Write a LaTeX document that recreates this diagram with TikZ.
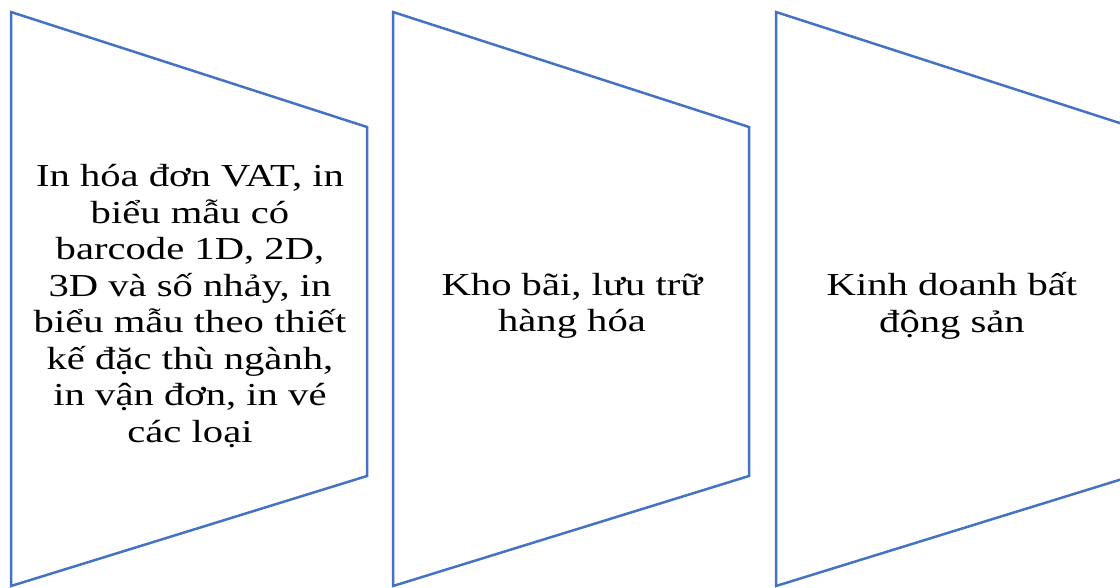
\documentclass[tikz,border=0pt]{standalone}
\usepackage{fontspec}
\setmainfont{Liberation Serif}[FakeStretch=1.27]
\definecolor{blue1}{RGB}{68, 114, 196}
\usetikzlibrary{positioning}

\begin{document}
\begin{tikzpicture}[x=1pt, y=-1pt,
  panel/.style={draw=blue1, line width=2.5pt, fill=white, line join=miter},
  boxtext/.style={align=center, inner sep=0pt, font=\fontsize{32}{36.5}\selectfont}]
  \useasboundingbox (0,0) rectangle (1120,587);
  \clip (0,0) rectangle (1120,587);
  % panels
  \draw[panel] (11,12) -- (367,127) -- (367,476) -- (11,586) -- cycle;
  \draw[panel] (393,12) -- (749,127) -- (749,476) -- (393,586) -- cycle;
  \draw[panel] (776,12) -- (1132,127) -- (1132,476) -- (776,586) -- cycle;
  % texts
  \node[boxtext] (printing) at (190,306) {In hóa đơn VAT, in\\
    biểu mẫu có\\
    barcode 1D, 2D,\\
    3D và số nhảy, in\\
    biểu mẫu theo thiết\\
    kế đặc thù ngành,\\
    in vận đơn, in vé\\
    các loại};
  \node[boxtext] (storage) at (572,306) {Kho bãi, lưu trữ\\ hàng hóa};
  \node[boxtext] (realestate) at (952,306) {Kinh doanh bất\\ động sản};
\end{tikzpicture}
\end{document}
